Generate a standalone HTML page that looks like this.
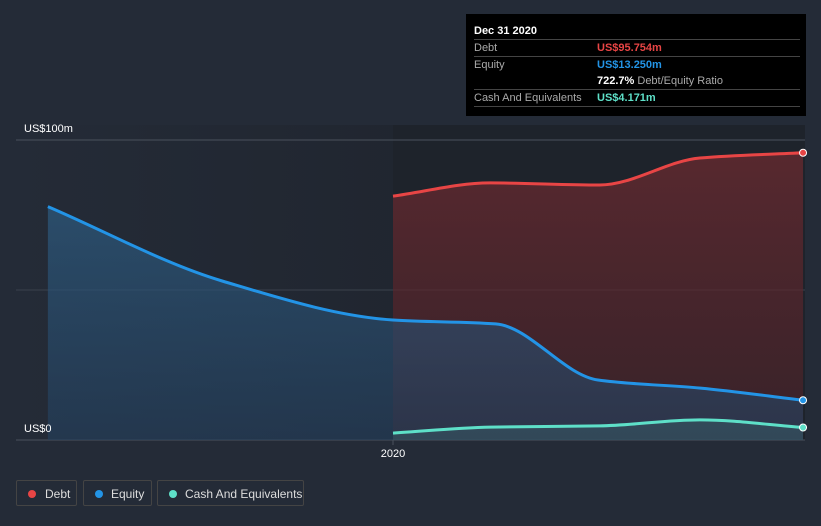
<!DOCTYPE html>
<html><head><meta charset="utf-8"><style>
body{margin:0;background:#242b37;font-family:"Liberation Sans",sans-serif;}
svg{display:block}
</style></head><body>
<svg id="c" width="821" height="526">
<defs>
<linearGradient id="shade" x1="0" x2="1" y1="0" y2="0"><stop offset="0" stop-color="#242b37"/><stop offset="1" stop-color="#1d2129"/></linearGradient>
<linearGradient id="debtG" x1="0" x2="0" y1="0" y2="1"><stop offset="0" stop-color="#6b2a30" stop-opacity="0.75"/><stop offset="1" stop-color="#4a2228" stop-opacity="0.6"/></linearGradient>
<linearGradient id="eqG" x1="0" x2="0" y1="0" y2="1"><stop offset="0" stop-color="#2e5f86" stop-opacity="0.65"/><stop offset="1" stop-color="#24405e" stop-opacity="0.6"/></linearGradient>
</defs>
<rect x="393" y="125" width="412" height="315" fill="#1e232b"/>
<rect x="16" y="125" width="377" height="315" fill="url(#shade)" opacity="0.5"/>
<g id="grid"></g>
<g id="areas"></g>
<g id="lines"></g>
<g id="ticks"></g>
</svg>
<div style="position:absolute;left:466px;top:14px;width:340px;height:102px;background:#000;color:#fff;font-size:11px;">
<div style="position:absolute;left:8px;top:11px;font-weight:bold;font-size:11px">Dec 31 2020</div>
<div style="position:absolute;left:8px;right:6px;top:25px;border-top:1px solid #444"></div>
<div style="position:absolute;left:8px;top:28px;color:#aaa">Debt</div>
<div style="position:absolute;left:131px;top:28px;color:#e84545;font-weight:bold">US$95.754m</div>
<div style="position:absolute;left:8px;right:6px;top:42px;border-top:1px solid #444"></div>
<div style="position:absolute;left:8px;top:45px;color:#aaa">Equity</div>
<div style="position:absolute;left:131px;top:45px;color:#2394e6;font-weight:bold">US$13.250m</div>
<div style="position:absolute;left:131px;top:61px;color:#fff"><b>722.7%</b> <span style="color:#aaa">Debt/Equity Ratio</span></div>
<div style="position:absolute;left:8px;right:6px;top:75px;border-top:1px solid #444"></div>
<div style="position:absolute;left:8px;top:78px;color:#aaa">Cash And Equivalents</div>
<div style="position:absolute;left:131px;top:78px;color:#5ee0c8;font-weight:bold">US$4.171m</div>
<div style="position:absolute;left:8px;right:6px;top:92px;border-top:1px solid #444"></div>
</div>
<div style="position:absolute;top:480px;left:16px;font-size:12px;color:#ddd">
<div style="position:absolute;left:0;width:61px;height:26px;border:1px solid #444;border-radius:2px;box-sizing:border-box"><span style="position:absolute;left:11px;top:9px;width:8px;height:8px;border-radius:50%;background:#e84545"></span><span style="position:absolute;left:28px;top:6px">Debt</span></div>
<div style="position:absolute;left:67px;width:69px;height:26px;border:1px solid #444;border-radius:2px;box-sizing:border-box"><span style="position:absolute;left:11px;top:9px;width:8px;height:8px;border-radius:50%;background:#2394e6"></span><span style="position:absolute;left:27px;top:6px">Equity</span></div>
<div style="position:absolute;left:141px;width:147px;height:26px;border:1px solid #444;border-radius:2px;box-sizing:border-box"><span style="position:absolute;left:11px;top:9px;width:8px;height:8px;border-radius:50%;background:#5ee0c8"></span><span style="position:absolute;left:27px;top:6px">Cash And Equivalents</span></div>
</div>
<script>
const debtMonths=[0,2.84,6.05,8.98,12];
const debtValues=[81.3,85.7,85,94,95.754];
const equityMonths=[-10.1,-5,0,3,6,9,12];
const equityValues=[77.8,53,40,38.7,20,17.3,13.25];
const cashMonths=[0,2.84,6.05,8.98,12];
const cashValues=[2.3,4.3,4.7,6.7,4.171];
const yTicks=[0,50,100];
const yTickLabels=["US$0","","US$100m"];
const xTickMonths=[0];
const xTickLabels=["2020"];
const NS="http://www.w3.org/2000/svg";
const X=m=>393+m*34.17, Y=v=>440-v*3;
function mk(t,a,p){const e=document.createElementNS(NS,t);for(const k in a)e.setAttribute(k,a[k]);p.appendChild(e);return e;}
function curve(xs,ys){const n=xs.length,d=[],m=[];for(let i=0;i<n-1;i++)d.push((ys[i+1]-ys[i])/(xs[i+1]-xs[i]));
for(let i=0;i<n;i++){if(i==0)m.push(d[0]);else if(i==n-1)m.push(d[n-2]);else m.push(d[i-1]*d[i]<=0?0:2/(1/d[i-1]+1/d[i]));}
let s="M"+xs[0]+","+ys[0];for(let i=0;i<n-1;i++){const h=(xs[i+1]-xs[i])/3;s+=" C"+(xs[i]+h)+","+(ys[i]+m[i]*h)+" "+(xs[i+1]-h)+","+(ys[i+1]-m[i+1]*h)+" "+xs[i+1]+","+ys[i+1];}return s;}
const grid=document.getElementById('grid'),areas=document.getElementById('areas'),lines=document.getElementById('lines'),ticks=document.getElementById('ticks');
yTicks.forEach((v,i)=>{const l=mk('line',{x1:16,x2:805,y1:Y(v),y2:Y(v),stroke:i==1?'#3a414c':'#4a515c','stroke-width':1},grid);


if(yTickLabels[i]){const t=mk('text',{x:24,y:Y(v)-8,fill:'#fff','font-size':11},ticks);t.textContent=yTickLabels[i];

}});
xTickMonths.forEach((m,i)=>{mk('line',{x1:X(m),x2:X(m),y1:440,y2:445,stroke:'#4a515c'},ticks);const t=mk('text',{x:X(m),y:457,fill:'#fff','font-size':11,'text-anchor':'middle'},ticks);t.textContent=xTickLabels[i];

});
function series(ms,vs,color,fill,name){const xs=ms.map(X),ys=vs.map(Y);const p=curve(xs,ys);
const a=mk('path',{d:p+" L"+xs[xs.length-1]+",440 L"+xs[0]+",440 Z",fill:fill},areas);


const l=mk('path',{d:p,fill:'none',stroke:color,'stroke-width':3},lines);


const c=mk('circle',{cx:xs[xs.length-1],cy:ys[ys.length-1],r:3.5,fill:color,stroke:'#fff','stroke-width':1},lines);

}
series(debtMonths,debtValues,'#e84545','url(#debtG)','debt');
series(equityMonths,equityValues,'#2394e6','url(#eqG)','equity');
series(cashMonths,cashValues,'#5ee0c8','rgba(94,224,200,0.12)','cash');
</script>
</body></html>
